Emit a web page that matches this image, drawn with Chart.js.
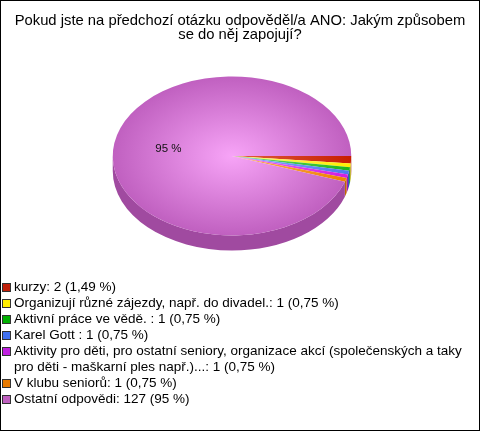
<!DOCTYPE html>
<html>
<head>
<meta charset="utf-8">
<script src="https://cdn.jsdelivr.net/npm/chart.js@4.4.0/dist/chart.umd.min.js"></script>
<style>
  body { margin: 0; background: #fff; }
  #frame { position: relative; width: 480px; height: 431px; box-sizing: border-box; border: 1px solid #000; overflow: hidden; background: #fff; }
  #pie { position: absolute; left: -1px; top: -1px; }
  #legend { position: absolute; left: 1px; top: 278px; width: 470px; font: 13.5px Arial, "Liberation Sans", sans-serif; color: #000; line-height: 16px; }
  .item { position: relative; padding-left: 12px; }
  .item .box { position: absolute; left: 0; top: 4px; width: 7px; height: 7px; border: 1px solid #333; }
</style>
</head>
<body>
<div id="frame">
  <canvas id="pie" width="480" height="280"></canvas>
  <div id="legend"></div>
</div>
<script>
const titleLines = ["Pokud jste na předchozí otázku odpověděl/a ANO: Jakým způsobem", "se do něj zapojují?"];
const labels = [
  "kurzy",
  "Organizují různé zájezdy, např. do divadel.",
  "Aktivní práce ve vědě. ",
  "Karel Gott ",
  "Aktivity pro děti, pro ostatní seniory, organizace akcí (společenských a taky pro děti - maškarní ples např.)...",
  "V klubu seniorů",
  "Ostatní odpovědi"
];
const counts = [2, 1, 1, 1, 1, 1, 127];
const percents = ["1,49", "0,75", "0,75", "0,75", "0,75", "0,75", "95"];

const topColors = ["#c81e00", "#ffee00", "#1cb41c", "#4a78f0", "#d01ee0", "#ee8200", "#c060c0"];
const lightColors = ["#e06040", "#fff480", "#70e070", "#90b0ff", "#f070f8", "#ffb060", "#f7a4f7"];
const sideColors = ["#9a1800", "#c8b800", "#148c14", "#3558c0", "#a018b0", "#c06800", "#a04aa0"];
const legendColors = ["#c0200a", "#ffee00", "#00b000", "#4070f0", "#c020e0", "#e87a00", "#c060c0"];

// where the squashed pie ends up on the page
const PIE_X = 232, PIE_Y = 156, SQUASH = 2 / 3, DEPTH = 15;

function mapPoint(arc, p) {
  return { x: PIE_X + (p.x - arc.x), y: PIE_Y + (p.y - arc.y) * SQUASH };
}

const pie3d = {
  id: "pie3d",
  beforeDatasetsDraw(chart) {
    const ctx = chart.ctx;
    const arcs = chart.getDatasetMeta(0).data;
    const r = arcs[0].outerRadius;
    const ry = r * SQUASH;
    // side wall, only the front half is visible
    arcs.forEach((arc, i) => {
      [[0, Math.PI], [2 * Math.PI, 3 * Math.PI]].forEach(([lo, hi]) => {
        const a0 = Math.max(arc.startAngle, lo);
        const a1 = Math.min(arc.endAngle, hi);
        if (a1 <= a0) return;
        ctx.beginPath();
        ctx.ellipse(PIE_X, PIE_Y, r, ry, 0, a0, a1);
        ctx.ellipse(PIE_X, PIE_Y + DEPTH, r, ry, 0, a1, a0, true);
        ctx.closePath();
        ctx.fillStyle = sideColors[i];
        ctx.fill();
      });
    });
    ctx.save();
    ctx.translate(PIE_X, PIE_Y);
    ctx.scale(1, SQUASH);
    ctx.translate(-arcs[0].x, -arcs[0].y);
  },
  afterDatasetsDraw(chart) {
    const ctx = chart.ctx;
    ctx.restore();
    const arcs = chart.getDatasetMeta(0).data;
    const total = counts.reduce((a, b) => a + b, 0);
    ctx.font = '11.5px Arial, "Liberation Sans", sans-serif';
    ctx.fillStyle = "#111";
    ctx.textAlign = "center";
    ctx.textBaseline = "middle";
    arcs.forEach((arc, i) => {
      if (counts[i] / total < 0.05) return;
      const c = arc.getCenterPoint();
      const p = mapPoint(arc, { x: arc.x + (c.x - arc.x) * 1.08, y: arc.y + (c.y - arc.y) * 1.08 });
      ctx.fillText(percents[i] + " %", p.x, p.y);
    });
  }
};

function sliceFill(c) {
  const area = c.chart.chartArea;
  if (!area) return topColors[c.dataIndex];
  const cx = (area.left + area.right) / 2;
  const cy = (area.top + area.bottom) / 2;
  const r = Math.min(area.width, area.height) / 2;
  const g = c.chart.ctx.createRadialGradient(cx, cy, 0, cx, cy, r);
  g.addColorStop(0, lightColors[c.dataIndex]);
  g.addColorStop(1, topColors[c.dataIndex]);
  return g;
}

const chart = new Chart(document.getElementById("pie"), {
  type: "pie",
  data: {
    labels: labels,
    datasets: [{
      data: counts,
      backgroundColor: sliceFill,
      borderWidth: 0,
      hoverOffset: 0,
      clip: false
    }]
  },
  options: {
    responsive: false,
    animation: false,
    rotation: 90,
    layout: { padding: 0 },
    plugins: {
      legend: { display: false },
      tooltip: { enabled: false },
      title: {
        display: true,
        text: titleLines,
        color: "#000",
        font: { family: 'Arial, "Liberation Sans", sans-serif', size: 14.8, weight: "normal", lineHeight: 13.5 / 14.8 },
        padding: { top: 14.5, bottom: 0 }
      }
    }
  },
  plugins: [pie3d]
});

// legend built from the chart's own labels and data
const legendEl = document.getElementById("legend");
chart.data.labels.forEach((lab, i) => {
  const item = document.createElement("div");
  item.className = "item";
  const box = document.createElement("span");
  box.className = "box";
  box.style.background = legendColors[i];
  item.appendChild(box);
  item.appendChild(document.createTextNode(lab + ": " + chart.data.datasets[0].data[i] + " (" + percents[i] + " %)"));
  legendEl.appendChild(item);
});
</script>
</body>
</html>
